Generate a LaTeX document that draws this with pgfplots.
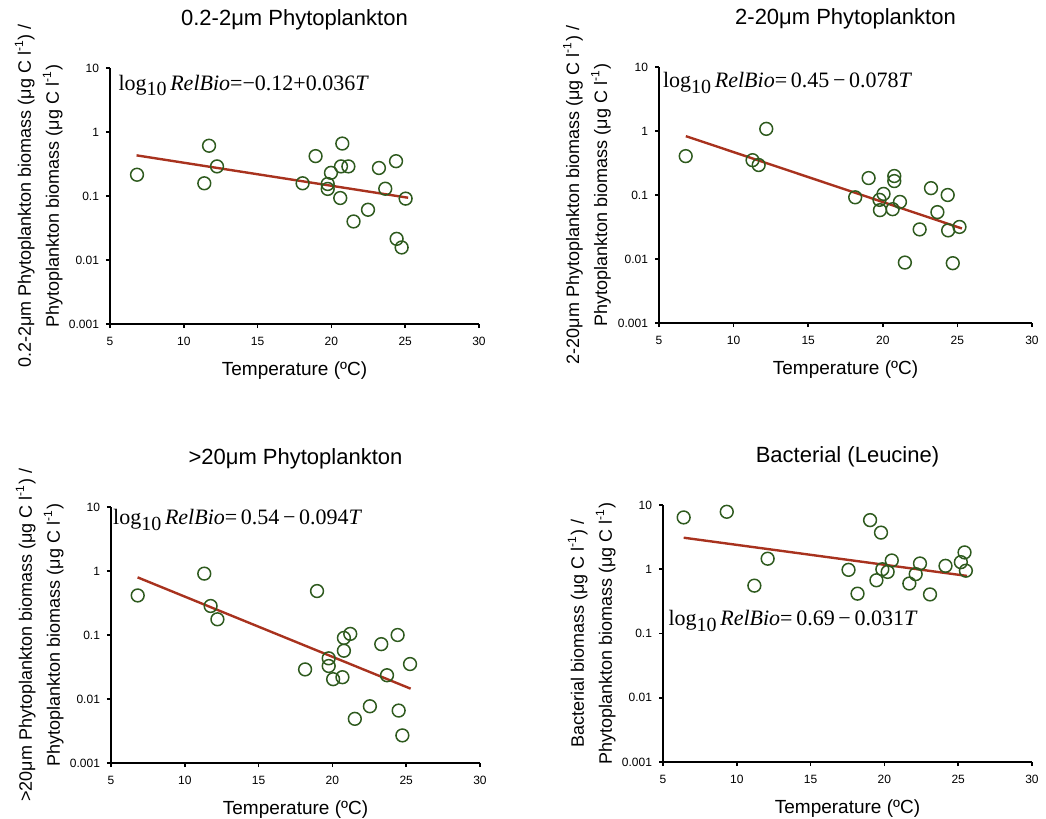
\documentclass[border=0pt]{standalone}
\usepackage{fontspec}
\setmainfont{Liberation Sans}
\newfontfamily\eqfont{Liberation Serif}
\usepackage{pgfplots}
\pgfplotsset{compat=1.18}

\definecolor{markgreen}{HTML}{2E5A1E}
\definecolor{fitred}{HTML}{A8321E}

% regression equation, set in a Times-like face
\newcommand{\releq}[1]{{\eqfont\fontsize{11}{13}\selectfont log\raisebox{-0.55ex}{\fontsize{10}{12}\selectfont 10}\,\textit{RelBio}=#1}}

\pgfplotsset{
  every axis/.append style={
    scale only axis,
    width=184.5pt, height=128pt,
    xmin=5, xmax=30, ymin=0.001, ymax=10,
    axis lines=left,
    axis line style={-, line width=0.8pt},
    xtick={5,10,15,20,25,30}, xticklabels={5,10,15,20,25,30},
    ytick={0.001,0.01,0.1,1,10}, yticklabels={0.001,0.01,0.1,1,10},
    yminorticks=false,
    tick align=outside,
    major tick length=2pt,
    tick style={black, line width=0.8pt},
    ticklabel style={font=\fontsize{6}{7}\selectfont},
    xticklabel style={yshift=-1pt},
    xlabel={Temperature (ºC)},
    xlabel style={at={(axis description cs:0.5,0)}, anchor=center, yshift=-23.5pt,
      font=\fontsize{9.5}{11}\selectfont},
    ylabel style={at={(axis description cs:-0.193,0.5)}, anchor=center, align=center,
      font=\fontsize{9}{14}\selectfont},
    title style={at={(axis description cs:0.5,1)}, anchor=center, yshift=18pt,
      font=\fontsize{11}{13}\selectfont},
    clip=false,
  },
}

\begin{document}
\begin{tikzpicture}
\useasboundingbox (0,0) rectangle (523pt,-409.5pt);

% ---------- 0.2-2 um ----------
\begin{semilogyaxis}[at={(55pt,-162pt)}, anchor=south west,
  title={0.2-2μm Phytoplankton},
  ylabel={0.2-2μm Phytoplankton biomass (μg C l\textsuperscript{-1}) /\\Phytoplankton biomass (μg C l\textsuperscript{-1})}]
\addplot[only marks, mark=o, mark size=3.2pt, mark options={draw=markgreen, line width=0.75pt}] coordinates {
(6.83,0.215) (11.71,0.61) (11.39,0.158) (12.25,0.29) (18.05,0.158)
(18.93,0.42) (19.75,0.154) (19.75,0.129) (19.97,0.23) (20.74,0.66)
(20.65,0.29) (21.15,0.29) (20.60,0.093) (21.50,0.040) (22.48,0.061)
(23.22,0.274) (23.65,0.13) (24.38,0.35) (24.42,0.0214) (24.76,0.0157)
(25.03,0.091)};
\addplot[no marks, fitred, line width=1.2pt] coordinates {(6.8,0.4316) (25.2,0.0939)};
\node[anchor=base west, inner sep=0] at (rel axis cs:0.022,0.914) {\releq{−0.12+0.036\textit{T}}};
\end{semilogyaxis}

% ---------- 2-20 um ----------
\begin{semilogyaxis}[at={(329.5pt,-161.5pt)}, anchor=south west, width=186.5pt,
  title={2-20μm Phytoplankton},
  ylabel={2-20μm Phytoplankton biomass (μg C l\textsuperscript{-1}) /\\Phytoplankton biomass (μg C l\textsuperscript{-1})}]
\addplot[only marks, mark=o, mark size=3.2pt, mark options={draw=markgreen, line width=0.75pt}] coordinates {
(6.79,0.405) (12.19,1.08) (11.27,0.35) (11.68,0.294) (18.15,0.092)
(19.05,0.184) (19.78,0.084) (20.05,0.104) (19.81,0.058) (20.77,0.198)
(20.77,0.165) (20.66,0.060) (21.15,0.078) (21.48,0.0088) (22.47,0.029)
(23.23,0.128) (23.66,0.054) (24.35,0.100) (24.38,0.028) (24.69,0.0086)
(25.14,0.0317)};
\addplot[no marks, fitred, line width=1.2pt] coordinates {(6.8,0.831) (25.3,0.0300)};
\node[anchor=base west, inner sep=0] at (rel axis cs:0.01,0.92) {\releq{\,0.45\,−\,0.078\textit{T}}};
\end{semilogyaxis}

% ---------- >20 um ----------
\begin{semilogyaxis}[at={(55.5pt,-381.5pt)}, anchor=south west,
  title={>20μm Phytoplankton},
  ylabel={>20μm Phytoplankton biomass (μg C l\textsuperscript{-1}) /\\Phytoplankton biomass (μg C l\textsuperscript{-1})}]
\addplot[only marks, mark=o, mark size=3.2pt, mark options={draw=markgreen, line width=0.75pt}] coordinates {
(6.81,0.415) (11.32,0.91) (11.75,0.284) (12.21,0.176) (18.96,0.486)
(18.15,0.029) (19.75,0.0432) (19.75,0.0328) (20.05,0.0204) (20.78,0.090)
(21.21,0.104) (20.78,0.0568) (20.68,0.0219) (21.52,0.0049) (22.54,0.0077)
(23.31,0.072) (23.70,0.0235) (24.42,0.100) (24.49,0.0066) (24.74,0.0027)
(25.26,0.0352)};
\addplot[no marks, fitred, line width=1.2pt] coordinates {(6.8,0.796) (25.3,0.0145)};
\node[anchor=base west, inner sep=0] at (rel axis cs:0.005,0.93) {\releq{\,0.54\,−\,0.094\textit{T}}};
\end{semilogyaxis}

% ---------- Bacteria ----------
\begin{semilogyaxis}[at={(331.5pt,-381pt)}, anchor=south west, height=128.5pt,
  title={Bacterial (Leucine)},
  ylabel={Bacterial biomass (μg C l\textsuperscript{-1}) /\\Phytoplankton biomass (μg C l\textsuperscript{-1})}]
\addplot[only marks, mark=o, mark size=3.2pt, mark options={draw=markgreen, line width=0.75pt}] coordinates {
(6.40,6.41) (9.32,7.85) (11.19,0.556) (12.09,1.46) (17.57,0.98)
(18.18,0.417) (19.03,5.82) (19.77,3.72) (19.46,0.674) (19.86,1.00)
(20.22,0.91) (20.50,1.37) (21.69,0.60) (22.12,0.84) (22.41,1.23)
(23.09,0.406) (24.14,1.13) (25.18,1.29) (25.43,1.83) (25.52,0.95)};
\addplot[no marks, fitred, line width=1.2pt] coordinates {(6.4,3.10) (25.6,0.788)};
\node[anchor=base west, inner sep=0] at (rel axis cs:0.014,0.53) {\releq{\,0.69\,−\,0.031\textit{T}}};
\end{semilogyaxis}
\end{tikzpicture}
\end{document}
